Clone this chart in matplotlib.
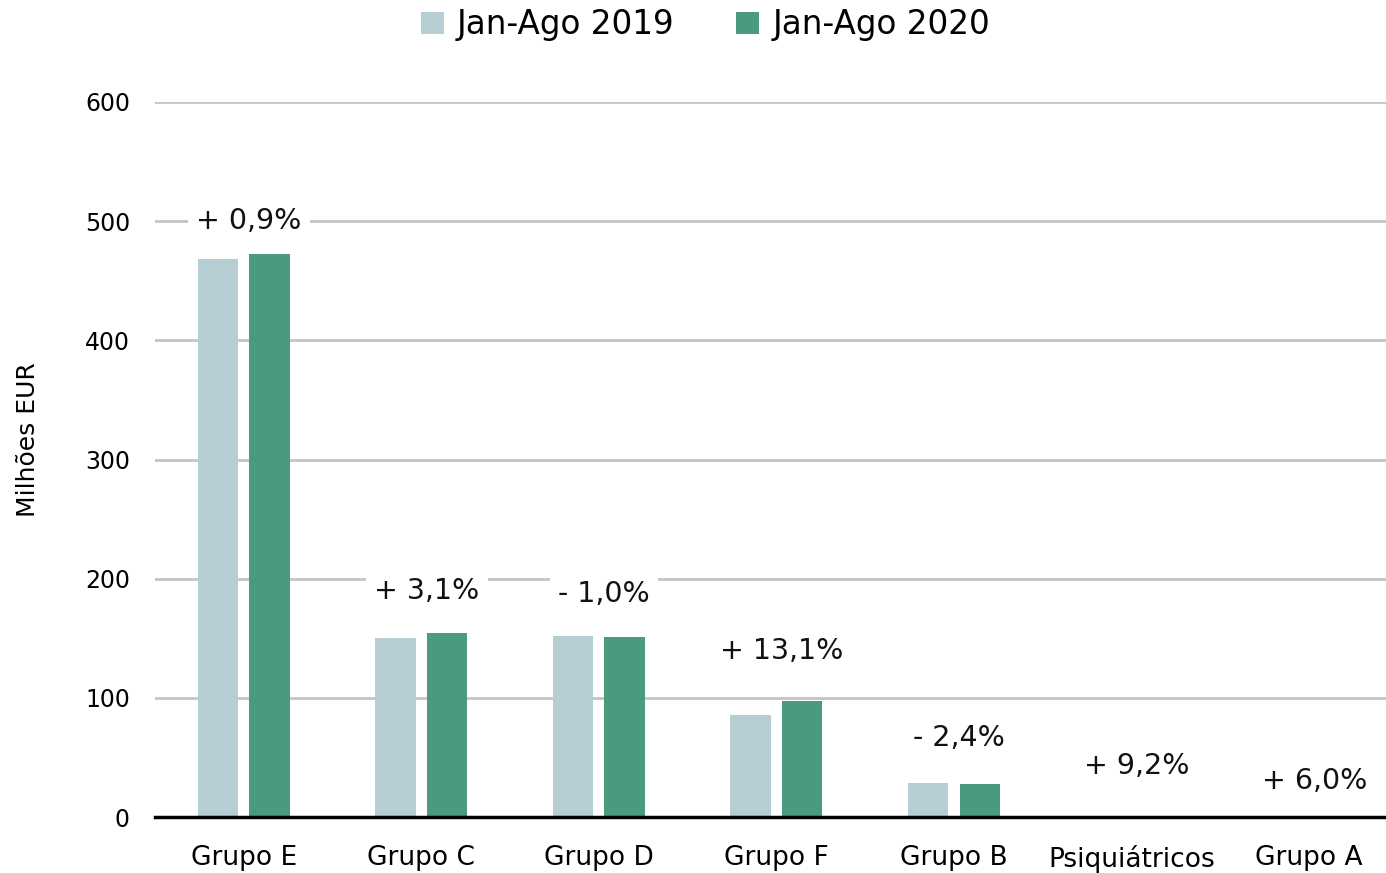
import matplotlib
matplotlib.use("Agg")
import matplotlib.pyplot as plt
import numpy as np

categories = ["Grupo E", "Grupo C", "Grupo D", "Grupo F", "Grupo B", "Psiquiátricos", "Grupo A"]
values_2019 = [468, 150, 152, 86, 28.5, 0.4, 0.3]
values_2020 = [472.5, 154.5, 151, 97.3, 28, 0.45, 0.32]
growth_labels = ["+ 0,9%", "+ 3,1%", "- 1,0%", "+ 13,1%", "- 2,4%", "+ 9,2%", "+ 6,0%"]
label_y = [500, 190, 187, 139, 66, 43, 30]
series_names = ["Jan-Ago 2019", "Jan-Ago 2020"]
yticks = [0, 100, 200, 300, 400, 500, 600]

plt.rcParams['font.family'] = ['DejaVu Sans']

fig = plt.figure(figsize=(13.86, 8.73), dpi=100)
ax = fig.add_axes([0.1118, 0.0641, 0.8968, 0.8191])

x = np.arange(len(categories))
w = 0.228
off = 0.145
c19 = "#b5cdd3"
c20 = "#4a9a7f"
ax.bar(x - off, values_2019, width=w, color=c19, label=series_names[0], zorder=3)
ax.bar(x + off, values_2020, width=w, color=c20, label=series_names[1], zorder=3)

for xi, lab, ly in zip(x, growth_labels, label_y):
    ax.text(xi + 0.03, ly, lab, ha="center", va="center", fontsize=20.5, color="#111111",
            bbox=dict(facecolor="white", edgecolor="none", pad=6), zorder=4)

ax.set_xlim(-0.5, len(categories) - 0.5)
ax.set_ylim(0, 600)
ax.set_yticks(yticks)
ax.set_yticklabels([str(t) for t in yticks], fontsize=17)
ax.set_xticks(x)
ax.set_xticklabels(categories, fontsize=19)
ax.tick_params(axis="x", length=0, pad=20)
ax.tick_params(axis="y", length=0, pad=18)
ax.yaxis.grid(True, color="#c4c4c4", linewidth=2, zorder=0)
ax.set_axisbelow(True)
for s in ["top", "right", "left"]:
    ax.spines[s].set_visible(False)
ax.spines["bottom"].set_linewidth(2.5)
ax.spines["bottom"].set_color("black")
ax.spines["bottom"].set_zorder(5)

fig.text(28 / 1386, 1 - 440 / 873, "Milhões EUR", rotation=90, ha="center", va="center", fontsize=18)

fig.legend(loc="upper center", bbox_to_anchor=(0.509, 1.024), ncol=2, frameon=False,
           fontsize=23.5, handlelength=0.7, handleheight=0.7, handletextpad=0.4, columnspacing=1.9)

fig.savefig("out.png", dpi=100)
